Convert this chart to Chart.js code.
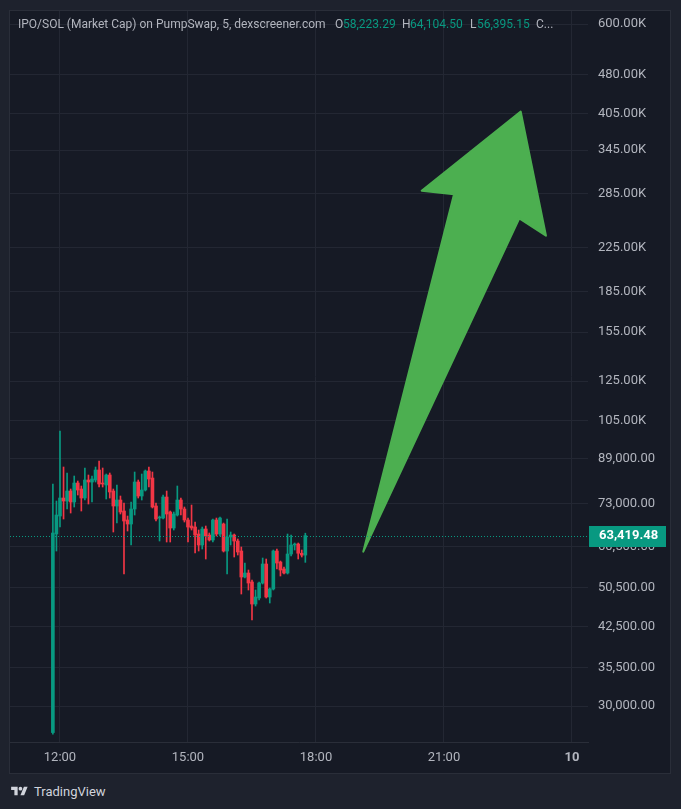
<!DOCTYPE html>
<html>
<head>
<meta charset="utf-8">
<script src="https://cdn.jsdelivr.net/npm/chart.js@4.4.1/dist/chart.umd.min.js"></script>
<style>
  html,body{margin:0;padding:0;}
  body{width:681px;height:809px;background:#1e222d;position:relative;overflow:hidden;font-family:Roboto,"Liberation Sans",sans-serif;}
  #frame{position:absolute;left:9px;top:10px;width:662px;height:764px;box-sizing:border-box;border:1px solid #2a2e39;background:#161a25;}
  #c{position:absolute;left:0;top:0;}
  #hdr span{position:absolute;top:6px;font-size:12px;line-height:15px;color:#b2b5be;white-space:nowrap;}
  #hdr span.v{color:#089981;}
  #logo{position:absolute;left:10px;top:783px;height:16px;display:flex;align-items:center;color:#d1d4dc;font-size:13px;}
  #logo svg{margin-right:5px;}
</style>
</head>
<body>
<div id="frame">
  <canvas id="c" width="660" height="762"></canvas>
  <div id="hdr">
    <span style="left:8px">IPO/SOL (Market Cap) on PumpSwap, 5, dexscreener.com</span>
    <span style="left:325px">O</span><span class="v" style="left:333px">58,223.29</span>
    <span style="left:392px">H</span><span class="v" style="left:400px">64,104.50</span>
    <span style="left:460px">L</span><span class="v" style="left:467px">56,395.15</span>
    <span style="left:526px">C...</span>
  </div>
</div>
<div id="logo"><svg width="19" height="13" viewBox="0 0 36 28"><path d="M14 22H7V11H0V4h14v18Z M28 22h-8l7.5-18h8L28 22Z" fill="#d1d4dc"/><circle cx="20" cy="8" r="4" fill="#d1d4dc"/></svg><span>TradingView</span></div>
<script>
// ---- data (5-minute candles) ----
const times = ['11:50','11:55','12:00','12:05','12:10','12:15','12:20','12:25','12:30','12:35','12:40','12:45',
  '12:50','12:55','13:00','13:05','13:10','13:15','13:20','13:25','13:30','13:35','13:40','13:45',
  '13:50','13:55','14:00','14:05','14:10','14:15','14:20','14:25','14:30','14:35','14:40','14:45',
  '14:50','14:55','15:00','15:05','15:10','15:15','15:20','15:25','15:30','15:35','15:40','15:45',
  '15:50','15:55','16:00','16:05','16:10','16:15','16:20','16:25','16:30','16:35','16:40','16:45',
  '16:50','16:55','17:00','17:05','17:10','17:15','17:20','17:25','17:30','17:35','17:40','17:45'];
const open = [26700,63874,69130,74818,73839,77157,73516,79915,77837,74818,80977,80269,
  80977,84615,79915,79218,82776,77157,72235,74164,70666,67926,66742,71289,
  80269,75479,77496,84244,81689,72235,68524,68524,75148,70357,65581,69434,
  74164,71289,67926,66159,65869,63874,60861,65292,63594,62212,67926,63874,
  66742,59277,63038,63594,61940,59277,52879,53814,51730,46964,48219,51501,
  55986,48431,50163,59277,56481,54770,53814,58501,60861,61129,58700,58223.29];
const high = [79567,73839,100433,85739,83507,77837,82413,80622,78871,85364,82776,82413,
  85739,88029,85364,83140,83507,77837,79218,75479,73194,69130,73516,83875,
  80977,83140,84615,85739,83875,73194,69130,75811,77157,70666,70357,78871,
  74818,71919,68524,72553,67332,65006,65869,66159,64156,68225,68524,68826,
  67034,68225,64438,63874,62486,60329,56231,54530,52186,49943,51730,57480,
  57230,50384,59538,59800,56729,55254,63874,63594,61398,61398,59538,64104.50];
const low = [26500,59277,65869,68225,71289,70045,71919,75811,70666,74164,72872,73516,
  80269,78526,78526,74490,74818,64438,67034,69740,53580,64721,60861,69434,
  74818,74164,77157,78526,71604,67628,61940,68225,61668,61668,65006,69130,
  69434,67332,61668,65006,58759,59277,59800,57230,61940,61668,63315,63315,
  59018,53580,60861,57736,58245,49073,52645,49943,43776,46553,47796,51277,
  48219,47171,49943,54770,53111,53580,53580,57990,59538,57230,57736,56395.15];
const close = [64156,69434,74818,73839,77157,73516,79915,77496,74818,80977,80269,81333,
  84615,79567,79567,82776,76819,72235,74164,70357,67628,66742,71289,80269,
  75479,77496,84244,81333,71919,68225,68826,75148,69740,65581,69740,74164,
  71289,67926,65869,65581,63594,60861,65292,63315,62212,67926,63874,68524,
  59277,63038,63594,61940,59018,52879,53814,51501,46964,48431,51501,55986,
  48431,50163,59277,56231,54530,53814,58501,60861,61129,58700,58223,63419.48];

const xTickValues = ['12:00','15:00','18:00','21:00','24:00'];
const xTickLabels = ['12:00','15:00','18:00','21:00','10'];
const yTickValues = [600000,480000,405000,345000,285000,225000,185000,155000,125000,105000,
  89000,73000,60500,50500,42500,35500,30000];
const lastPriceLabel = '63,419.48';

// hand-drawn arrow annotation, in chart units (time, price): tail, left inner, left barb, tip, right barb, right inner
const arrowTimes  = ['19:06.5','21:14.1','20:28.6','22:47.9','23:23.4','22:45.9'];
const arrowPrices = [59100,284200,288700,408600,236800,255700];

// ---- helpers ----
function toMin(t){const p=t.split(':').map(Number);return p[0]*60+p[1];}
const UP='#089981', DOWN='#f23645';
const colors = close.map((c,i)=> c>=open[i]?UP:DOWN);
const gridC = '#232733';
const axisFont = {family:'Roboto, "Liberation Sans", sans-serif', size:13};
function fmtPrice(v){
  if(v>=100000) return (v/1000).toFixed(2)+'K';
  return v.toLocaleString('en-US',{minimumFractionDigits:2,maximumFractionDigits:2});
}

const overlay = {
  id:'overlay',
  afterDatasetsDraw(chart){
    const {ctx, chartArea:a, scales:{x,y}} = chart;
    ctx.save();
    ctx.beginPath();
    arrowTimes.forEach((t,i)=>{
      const px=x.getPixelForValue(toMin(t)), py=y.getPixelForValue(arrowPrices[i]);
      if(i===0) ctx.moveTo(px,py); else ctx.lineTo(px,py);
    });
    ctx.closePath();
    ctx.fillStyle='#4caf50'; ctx.strokeStyle='#4caf50';
    ctx.lineJoin='round'; ctx.lineWidth=2;
    ctx.fill(); ctx.stroke();
    ctx.restore();
    const last = close[close.length-1];
    const ly = Math.round(y.getPixelForValue(last))+0.5;
    ctx.save();
    ctx.strokeStyle=UP; ctx.lineWidth=1; ctx.setLineDash([1,2]);
    ctx.beginPath(); ctx.moveTo(a.left,ly); ctx.lineTo(a.right,ly); ctx.stroke();
    ctx.restore();
  },
  afterDraw(chart){
    const {ctx, chartArea:a, scales:{y}} = chart;
    const last = close[close.length-1];
    const ly = y.getPixelForValue(last);
    ctx.save();
    ctx.fillStyle=UP;
    ctx.fillRect(a.right+1, Math.round(ly-10), 77, 21);
    ctx.fillStyle='#ffffff';
    ctx.font='bold 13px Roboto, "Liberation Sans", sans-serif';
    ctx.textBaseline='middle'; ctx.textAlign='left';
    ctx.fillText(lastPriceLabel, a.right+11, ly+0.5);
    ctx.restore();
  }
};

new Chart(document.getElementById('c'), {
  type:'bar',
  data:{datasets:[
    {label:'wick', data: times.map((t,i)=>({x:toMin(t), y:[low[i],high[i]]})),
     backgroundColor:colors, barThickness:1, grouped:false, order:2},
    {label:'body', data: times.map((t,i)=>({x:toMin(t), y:[open[i],close[i]]})),
     backgroundColor:colors, barThickness:3, minBarLength:1, grouped:false, order:1}
  ]},
  options:{
    responsive:false, animation:false, devicePixelRatio:1,
    layout:{padding:0},
    plugins:{legend:{display:false}, tooltip:{enabled:false}},
    scales:{
      x:{type:'linear', min:649.7, max:1462.5, offset:false,
         grid:{color:gridC, drawTicks:false, offset:false},
         border:{display:true, color:'#2a2e39'},
         ticks:{padding:8, color:'#b2b5be', maxRotation:0, autoSkip:false,
           font:(c)=> c.tick && c.tick.value===toMin('24:00') ? {family:axisFont.family,size:13,weight:'bold'} : axisFont,
           callback:(v)=>{const k=xTickValues.map(toMin).indexOf(v);return k>=0?xTickLabels[k]:'';}},
         afterBuildTicks:(s)=>{s.ticks = xTickValues.map(t=>({value:toMin(t)}));},
         afterFit:(s)=>{s.height=31; s.paddingLeft=0; s.paddingRight=0;}
      },
      y:{type:'logarithmic', position:'right', min:25614, max:635700,
         grid:{color:gridC, drawTicks:false},
         border:{display:false},
         ticks:{padding:10, color:'#b2b5be', autoSkip:false, font:axisFont, callback:(v)=>fmtPrice(v)},
         afterBuildTicks:(s)=>{s.ticks = yTickValues.map(v=>({value:v}));},
         afterFit:(s)=>{s.width=82; s.paddingTop=0; s.paddingBottom=0;}
      }
    }
  },
  plugins:[overlay]
});
</script>
</body>
</html>
